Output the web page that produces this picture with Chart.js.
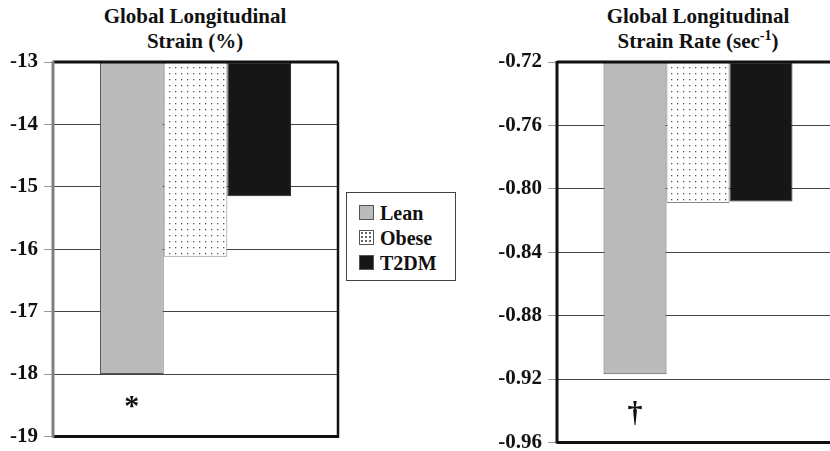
<!DOCTYPE html>
<html>
<head>
<meta charset="utf-8">
<script src="https://cdn.jsdelivr.net/npm/chart.js@4"></script>
<style>
  html, body { margin:0; padding:0; background:#fff; width:830px; height:451px; overflow:hidden; }
  .wrap { position:absolute; top:0; }
  .title { position:absolute; top:4px; text-align:center; font:bold 21px 'Liberation Serif', serif; line-height:25px; color:#111; }
  .legend { position:absolute; left:346px; top:192px; width:110px; height:89px; border:1.5px solid #444; box-sizing:border-box; }
  .legend div { position:absolute; left:12px; font:bold 20px 'Liberation Serif', serif; color:#111; line-height:20px; }
  .legend span { display:inline-block; width:13px; height:13px; border:1px solid #555; margin-right:6px; vertical-align:0px; }
  .dots { background-color:#fff; background-image:radial-gradient(circle, #666 0.8px, transparent 1px); background-size:4px 4px; }
</style>
</head>
<body>
<div class="title" style="left:85px;width:220px">Global Longitudinal<br>Strain (%)</div>
<div class="title" style="left:578px;width:240px">Global Longitudinal<br>Strain Rate (sec<sup style="font-size:14px;line-height:0">-1</sup>)</div>

<div class="wrap" style="left:0;width:345px;height:455px"><canvas id="strainChart"></canvas></div>
<div class="wrap" style="left:490px;width:349px;height:461px"><canvas id="rateChart"></canvas></div>

<div class="legend" id="legend"></div>

<script>
// ── data ─────────────────────────────────────────────
const groups      = ['Lean', 'Obese', 'T2DM'];
const strainVals  = [-18.0, -16.12, -15.15];
const rateVals    = [-0.917, -0.809, -0.808];
const strainMarks = ['*', '', ''];
const rateMarks   = ['\u2020', '', ''];
const strainMarkAt = -18.47;
const rateMarkAt   = -0.94;

// dotted fill for Obese
function dotPattern() {
  const c = document.createElement('canvas');
  c.width = 6; c.height = 6;
  const g = c.getContext('2d');
  g.fillStyle = '#fff'; g.fillRect(0, 0, 6, 6);
  g.fillStyle = '#555';
  g.fillRect(1, 1, 1.3, 1.3);
  return g.createPattern(c, 'repeat');
}

const fills   = ['#bbbbbb', dotPattern(), '#161616'];
const borders = ['#555', '#888', '#222'];
const serif   = "'Liberation Serif', serif";

// frame + significance marks
const framePlugin = {
  id: 'frame',
  afterDatasetsDraw(chart, args, opts) {
    const { ctx, chartArea: a, scales: { y } } = chart;
    ctx.save();
    ctx.strokeStyle = '#111';
    ctx.lineWidth = 3;
    ctx.beginPath(); ctx.moveTo(a.left, a.top); ctx.lineTo(a.right, a.top); ctx.stroke();
    ctx.beginPath(); ctx.moveTo(a.left, a.bottom); ctx.lineTo(a.right + 1, a.bottom); ctx.stroke();
    ctx.lineWidth = 2.5;
    ctx.beginPath(); ctx.moveTo(a.right, a.top); ctx.lineTo(a.right, a.bottom + 1); ctx.stroke();
    ctx.strokeStyle = opts.leftColor;
    ctx.lineWidth = 3;
    ctx.beginPath(); ctx.moveTo(a.left, a.top - 1); ctx.lineTo(a.left, a.bottom + 1); ctx.stroke();

    ctx.fillStyle = '#111';
    ctx.textAlign = 'center';
    ctx.textBaseline = 'middle';
    opts.marks.forEach((m, i) => {
      if (!m) return;
      const bar = chart.getDatasetMeta(i).data[0];
      ctx.font = opts.markFont;
      ctx.fillText(m, bar.x, y.getPixelForValue(opts.markAt) + 4);
    });
    ctx.restore();
  }
};

function makeChart(id, values, yMin, yMax, step, fmt, yWidth, padBottom, padRight, marks, markAt, markFont, leftColor) {
  return new Chart(document.getElementById(id), {
    type: 'bar',
    data: {
      labels: [''],
      datasets: groups.map((g, i) => ({
        label:           g,
        data:            [values[i]],
        base:            yMax,
        backgroundColor: fills[i],
        borderColor:     borders[i],
        borderWidth:     1,
        borderSkipped:   false,
        categoryPercentage: 0.67,
        barPercentage:   1.0,
      }))
    },
    options: {
      responsive: true,
      maintainAspectRatio: false,
      animation: false,
      layout: { padding: { top: 62, bottom: padBottom, right: padRight, left: 0 } },
      plugins: {
        legend:  { display: false },
        tooltip: { enabled: false },
        frame:   { marks, markAt, markFont, leftColor }
      },
      scales: {
        x: { display: false },
        y: {
          min: yMin, max: yMax,
          border: { display: false },
          grid: { color: '#444', lineWidth: 1, tickLength: 9, tickColor: '#999' },
          ticks: {
            stepSize: step,
            padding: 6,
            color: '#111',
            font: { family: serif, size: 21, weight: 700 },
            callback: fmt
          },
          afterFit: s => { s.width = yWidth; }
        }
      }
    },
    plugins: [framePlugin]
  });
}

makeChart('strainChart', strainVals, -19, -13, 1, v => String(v), 53, 15, 7,
          strainMarks, strainMarkAt, 'bold 30px ' + serif, '#808080');
makeChart('rateChart', rateVals, -0.96, -0.72, 0.04, v => v.toFixed(2), 67, 9, 0,
          rateMarks, rateMarkAt, 'bold 30px ' + serif, '#111');

// legend
const swatch = ['background:#bbbbbb', '', 'background:#161616'];
document.getElementById('legend').innerHTML = groups.map((g, i) => `
  <div style="top:${10 + i * 25}px"><span class="${i === 1 ? 'dots' : ''}" style="${swatch[i]}"></span>${g}</div>`).join('');
</script>
</body>
</html>
